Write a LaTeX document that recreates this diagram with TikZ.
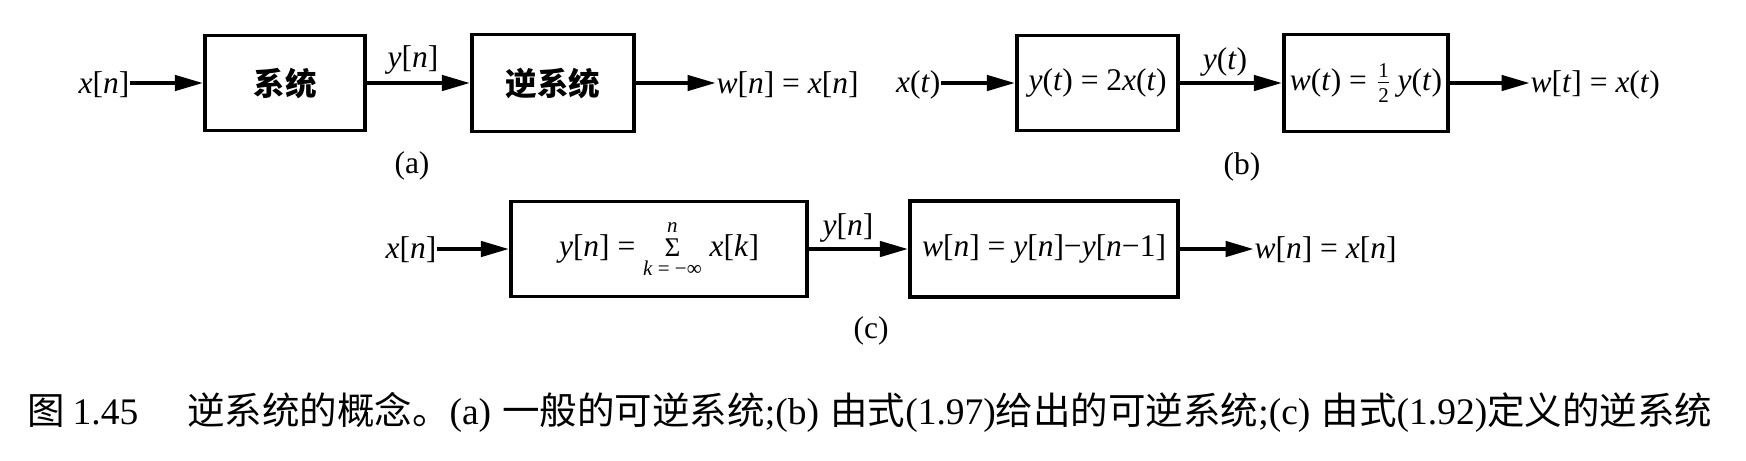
\documentclass[tikz,border=0pt]{standalone}
\usepackage{fontspec}
\setmainfont{Liberation Serif}
\newfontfamily\cjk{Noto Sans CJK SC}
\usetikzlibrary{arrows.meta}
\newcommand\iv[1]{\textit{#1}}
\begin{document}
\begin{tikzpicture}[x=0.33333pt,y=-0.33333pt,
  font=\fontsize{10.5}{12}\selectfont,
  bx/.style 2 args={draw,line width=1.1pt,inner sep=0pt,minimum width=#1pt/3,minimum height=#2pt/3},
  lbl/.style={inner sep=0pt},
  arr/.style={line width=1.5pt,-{Triangle[length=9.5pt,width=5pt]}},
  cjkb/.style={font=\fontsize{10.5}{12}\selectfont\cjk\bfseries}]
\useasboundingbox (0,0) rectangle (1746,460);
% ---------- (a)
\node[bx={160}{95},cjkb] (b1) at (285,83) {系统};
\node[bx={162}{97},cjkb] (b2) at (553,83) {逆系统};
\node[lbl,anchor=east] (xa) at (130,85) {\iv{x}[\iv{n}]};
\node[lbl] (ya) at (413,60) {\iv{y}[\iv{n}]};
\node[lbl,anchor=west] (wa) at (716,85) {\iv{w}[\iv{n}] = \iv{x}[\iv{n}]};
\node[lbl] (la) at (412,166) {(a)};
\draw[arr] (xa.east |- b1.west) -- (b1.west);
\draw[arr] (b1.east) -- (b2.west);
\draw[arr] (b2.east) -- (b2.east -| wa.west);
% ---------- (b)
\node[bx={161}{95}] (b3) at (1097.5,83) {\iv{y}(\iv{t}) = 2\iv{x}(\iv{t})};
\node[bx={164}{97}] (b4) at (1366,83) {\iv{w}(\iv{t}) = $\frac{\mbox{\scriptsize 1}}{\mbox{\scriptsize 2}}$\,\iv{y}(\iv{t})};
\node[lbl,anchor=east] (xb) at (941,85) {\iv{x}(\iv{t})};
\node[lbl] (yb) at (1225,62) {\iv{y}(\iv{t})};
\node[lbl,anchor=west] (wb) at (1530,85) {\iv{w}[\iv{t}] = \iv{x}(\iv{t})};
\node[lbl] (lb) at (1242,167) {(b)};
\draw[arr] (xb.east |- b3.west) -- (b3.west);
\draw[arr] (b3.east) -- (b4.west);
\draw[arr] (b4.east) -- (b4.east -| wb.west);
% ---------- (c)
\node[bx={296}{95}] (b5) at (659,249) {\iv{y}[\iv{n}] = $\mathop{\mbox{\small Σ}}\limits^{\mbox{\scriptsize\itshape n}}_{\mbox{\scriptsize\itshape k\upshape{} = −∞}}$\ \iv{x}[\iv{k}]};
\node[bx={268}{96}] (b6) at (1044,249) {\iv{w}[\iv{n}] = \iv{y}[\iv{n}]−\iv{y}[\iv{n}−1]};
\node[lbl,anchor=east] (xc) at (437,250) {\iv{x}[\iv{n}]};
\node[lbl] (yc) at (848,228) {\iv{y}[\iv{n}]};
\node[lbl,anchor=west] (wc) at (1254,250) {\iv{w}[\iv{n}] = \iv{x}[\iv{n}]};
\node[lbl] (lc) at (871,331) {(c)};
\draw[arr] (xc.east |- b5.west) -- (b5.west);
\draw[arr] (b5.east) -- (b6.west);
\draw[arr] (b6.east) -- (b6.east -| wc.west);
% ---------- caption
\node[lbl,font=\fontsize{12.5}{14}\selectfont] (cap) at (870,412) {{\cjk 图}\hspace{0.2em}1.45\hspace{1.3em}{\cjk 逆系统的概念。}(a)\hspace{0.3em}{\cjk 一般的可逆系统};(b)\hspace{0.3em}{\cjk 由式}(1.97){\cjk 给出的可逆系统};(c)\hspace{0.3em}{\cjk 由式}(1.92){\cjk 定义的逆系统}};
\end{tikzpicture}
\end{document}
